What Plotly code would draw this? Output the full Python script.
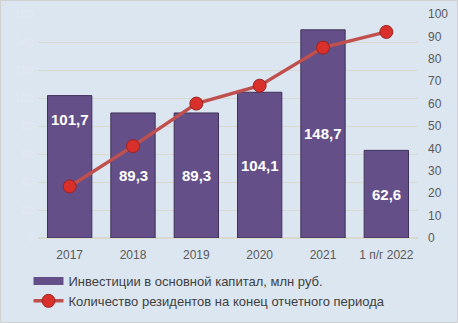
import plotly.graph_objects as go

# Investment and resident data by period
periods = ["2017", "2018", "2019", "2020", "2021", "1 п/г 2022"]
investments = [101.7, 89.3, 89.3, 104.1, 148.7, 62.6]
residents = [23, 41, 60, 68, 85, 92]
bar_labels = ["101,7", "89,3", "89,3", "104,1", "148,7", "62,6"]
# share of the bar height at which each value label sits
label_frac = [0.83, 0.5, 0.5, 0.5, 0.5, 0.5]

W, H = 458, 323
ML, MR, MT, MB = 38, 40, 14, 85
BG = "#dce6f1"
BAR = "#654f88"

xpos = list(range(len(periods)))

fig = go.Figure()

fig.add_trace(go.Bar(
    x=xpos, y=investments,
    name="Инвестиции в основной капитал, млн руб.",
    marker=dict(color=BAR, line=dict(color="#3f3158", width=1)),
    yaxis="y", showlegend=False, width=0.7,
))

# legend entry for the bars: a wide flat swatch
fig.add_trace(go.Scatter(
    x=[None], y=[None], mode="lines",
    name="Инвестиции в основной капитал, млн руб.",
    line=dict(color=BAR, width=8),
    yaxis="y",
))

fig.add_trace(go.Scatter(
    x=xpos, y=residents,
    name="Количество резидентов на конец отчетного периода",
    mode="lines+markers",
    line=dict(color="#c0504d", width=3.5),
    marker=dict(size=13, color="#d9302c", line=dict(color="#9b2320", width=1)),
    yaxis="y2",
))

for i, v, lab, f in zip(xpos, investments, bar_labels, label_frac):
    fig.add_annotation(
        x=i, y=v * f, xref="x", yref="y", text=f"<b>{lab}</b>",
        showarrow=False, font=dict(family="Liberation Sans, Arial", size=15, color="white"),
    )

plot_w = W - ML - MR
plot_h = H - MT - MB
fig.add_shape(
    type="rect", xref="paper", yref="paper",
    x0=-(ML - 0.5) / plot_w, x1=(plot_w + MR - 0.5) / plot_w,
    y0=-(MB - 0.5) / plot_h, y1=(plot_h + MT - 0.5) / plot_h,
    line=dict(color="#d0d0d0", width=1), layer="below",
)

fig.update_layout(
    width=W, height=H,
    margin=dict(l=ML, r=MR, t=MT, b=MB, autoexpand=False),
    paper_bgcolor=BG, plot_bgcolor=BG,
    font=dict(family="Liberation Sans, Arial", size=12, color="#595959"),
    xaxis=dict(range=[-0.5, len(periods) - 0.5], tickvals=xpos, ticktext=periods,
               showgrid=False, showline=False, zeroline=False, ticks="",
               ticklabelstandoff=8, automargin=False,
               tickfont=dict(size=12, color="#595959")),
    yaxis=dict(range=[0, 160], dtick=20, showgrid=True, gridcolor="#d9d9cf", gridwidth=1,
               zeroline=True, zerolinecolor="#d9d9cf", showticklabels=True, automargin=False,
               tickfont=dict(size=11, color="#e2e9f2"), ticklabelstandoff=4),
    yaxis2=dict(range=[0, 100], dtick=10, overlaying="y", side="right", showgrid=False,
                zeroline=False, automargin=False,
                tickfont=dict(size=12, color="#595959"), ticklabelstandoff=9),
    legend=dict(x=-0.025, y=-0.125, xanchor="left", yanchor="top", orientation="v",
                bgcolor="rgba(0,0,0,0)", font=dict(size=13, color="#404040"),
                tracegroupgap=8, itemwidth=30),
    showlegend=True,
)

fig.write_html("out.html")
